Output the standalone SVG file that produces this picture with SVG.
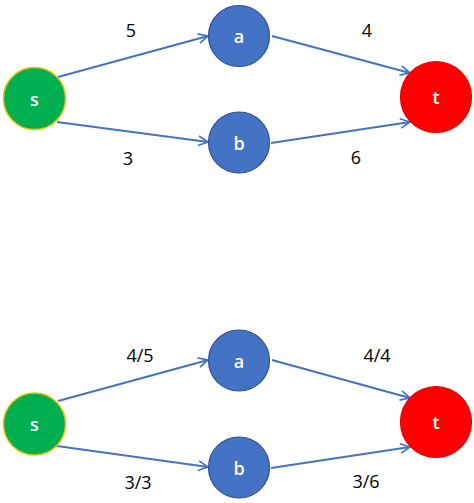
<svg xmlns="http://www.w3.org/2000/svg" width="474" height="503" viewBox="0 0 474 503">
<style>
.src{fill:#00B050;stroke:#E6C200;stroke-width:1.5}
.mid{fill:#4472C4;stroke:#2F528F;stroke-width:1.2}
.snk{fill:#FF0000;stroke:#E00000;stroke-width:1.2}
.nl{font-family:"Open Sans","Liberation Sans",sans-serif;font-size:18px;font-weight:600;fill:#fff;text-anchor:middle;dominant-baseline:central}
.el{font-family:"Open Sans","Liberation Sans",sans-serif;font-size:18px;font-weight:500;fill:#000;text-anchor:middle;dominant-baseline:central}
.e{stroke:#4472C4;stroke-width:2;fill:none;marker-end:url(#arr)}
</style>
<defs>
<marker id="arr" viewBox="0 0 10 10" refX="9" refY="5" markerWidth="6" markerHeight="6" orient="auto" markerUnits="strokeWidth">
<path d="M1,1 L9,5 L1,9" fill="none" stroke="#4472C4" stroke-width="1.4"/>
</marker>
</defs>
<rect width="474" height="503" fill="#fff"/>
<g id="connectors">
<line class="e" x1="58" y1="77" x2="208" y2="36"/>
<line class="e" x1="57" y1="122" x2="208" y2="142"/>
<line class="e" x1="272" y1="36" x2="410" y2="73"/>
<line class="e" x1="271" y1="143" x2="410" y2="122"/>
<line class="e" x1="58" y1="401" x2="208" y2="360"/>
<line class="e" x1="57" y1="446" x2="208" y2="467"/>
<line class="e" x1="272" y1="360" x2="410" y2="398"/>
<line class="e" x1="271" y1="468" x2="410" y2="447"/>
</g>
<g id="edge-labels">
<text class="el" x="131" y="30">5</text>
<text class="el" x="128" y="158">3</text>
<text class="el" x="367" y="30">4</text>
<text class="el" x="356" y="157">6</text>
<text class="el" x="140" y="355">4/5</text>
<text class="el" x="138" y="482">3/3</text>
<text class="el" x="377" y="355">4/4</text>
<text class="el" x="366" y="481">3/6</text>
</g>
<g id="s1"><circle class="src" cx="34.5" cy="98.5" r="31"/><text class="nl" x="34.5" y="98.5">s</text></g>
<g id="a1"><circle class="mid" cx="239" cy="36" r="30.5"/><text class="nl" x="239" y="36">a</text></g>
<g id="b1"><circle class="mid" cx="239" cy="142.5" r="30.5"/><text class="nl" x="239" y="142.5">b</text></g>
<g id="t1"><circle class="snk" cx="436" cy="97" r="35.5"/><text class="nl" x="436" y="97">t</text></g>
<g id="s2"><circle class="src" cx="34.5" cy="424" r="31"/><text class="nl" x="34.5" y="424">s</text></g>
<g id="a2"><circle class="mid" cx="239" cy="360.5" r="30.5"/><text class="nl" x="239" y="360.5">a</text></g>
<g id="b2"><circle class="mid" cx="239" cy="467.5" r="30.5"/><text class="nl" x="239" y="467.5">b</text></g>
<g id="t2"><circle class="snk" cx="436" cy="422" r="35.5"/><text class="nl" x="436" y="422">t</text></g>
</svg>
